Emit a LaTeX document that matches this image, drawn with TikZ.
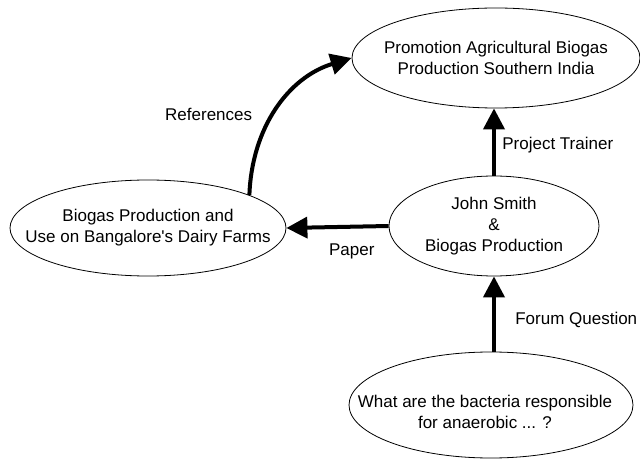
\documentclass[tikz,border=0pt]{standalone}
\usepackage{fontspec}
\setmainfont{Liberation Sans}[Ligatures=TeXOff]
\usetikzlibrary{shapes.geometric, arrows}
\usetikzlibrary{positioning}
\usetikzlibrary{arrows.meta}

\begin{document}
\begin{tikzpicture}[
    x=1pt, y=1pt, >=stealth,
    % topic ellipses
    topic/.style={
        ellipse,
        draw=black,
        line width=0.8pt,
        inner sep=0pt
    },
    topic text/.style={
        align=center,
        font=\fontsize{17}{21}\selectfont
    },
    % thick connectors
    link/.style={
        -{Triangle[length=21pt, width=21pt]},
        draw=black,
        line width=4pt
    },
    link label/.style={
        font=\fontsize{17}{21}\selectfont
    }
]
\useasboundingbox (0,0) rectangle (640,461);

% -------------------------------
% topics
\node[topic, minimum width=288pt, minimum height=100pt] (promo) at (496,403) {};
\node[topic, minimum width=276pt, minimum height=96pt] (farms) at (148,233) {};
\node[topic, minimum width=210pt, minimum height=100pt] (hub) at (494,235) {};
\node[topic, minimum width=284pt, minimum height=106pt] (quest) at (491,56) {};

% -------------------------------
% topic texts
\node[topic text] (promo-txt) at (promo) {Promotion Agricultural Biogas\\Production Southern India};
\node[topic text] (farms-txt) at (farms) {Biogas Production and\\Use on Bangalore's Dairy Farms};
\node[topic text] (hub-txt) at (hub) {John Smith\\\&\\Biogas Production};
\node[topic text] (quest-txt) at ([shift={(-6,-7)}]quest.center) {What are the bacteria responsible\\for anaerobic ... ?};

% -------------------------------
% connectors
\draw[link] (quest.north -| hub.south) -- (hub.south)
    node[link label, right=16pt, pos=0.42] (forum-lbl) {Forum Question};
\draw[link] (hub.north) -- (hub.north |- promo.south)
    node[link label, right=3pt, pos=0.45] (trainer-lbl) {Project Trainer};
\draw[link] (hub.west) -- (farms.east)
    node[link label, below=12pt, pos=0.36] (paper-lbl) {Paper};
\draw[link] (farms.18) to[out=88, in=197]
    node[link label, left=16pt, pos=0.46] (refs-lbl) {References} (promo.west);

\end{tikzpicture}
\end{document}
